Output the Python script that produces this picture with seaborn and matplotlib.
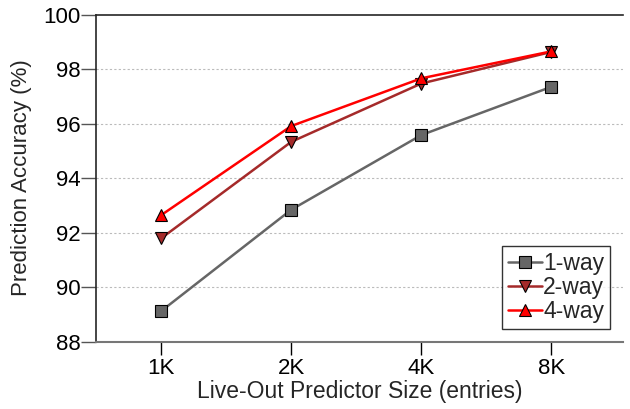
import pandas as pd
import numpy as np
import seaborn as sns
import matplotlib.pyplot as plt

sizes = ['1K', '2K', '4K', '8K']
way1 = [89.12, 92.84, 95.58, 97.35]
way2 = [91.79, 95.33, 97.47, 98.63]
way4 = [92.64, 95.91, 97.66, 98.65]
series = ['1-way', '2-way', '4-way']

sns.set_style('white')
plt.rcParams['font.family'] = ['Liberation Sans', 'DejaVu Sans']

rows = []
for name, vals in zip(series, [way1, way2, way4]):
    for i, v in enumerate(vals):
        rows.append([name, i, v])
df = pd.DataFrame(rows, columns=['assoc', 'pos', 'acc'])

fig = plt.figure(figsize=(6.3, 4.09), dpi=100)
ax = fig.add_axes([0.1524, 0.1645, 0.989 - 0.1524, 0.9645 - 0.1645])

palette = {'1-way': '#666666', '2-way': '#a52a2a', '4-way': '#ff0000'}
markers = {'1-way': 's', '2-way': 'v', '4-way': '^'}
sns.lineplot(data=df, x='pos', y='acc', hue='assoc', style='assoc',
             palette=palette, markers=markers, dashes=False, ax=ax,
             linewidth=1.8, markersize=9, markeredgecolor='black',
             markeredgewidth=0.8)

ax.set_xlim(-0.5, 3.55)
ax.set_ylim(88, 100)
ax.set_xticks(range(len(sizes)))
ax.set_xticklabels(sizes)
ax.set_yticks([88, 90, 92, 94, 96, 98, 100])
for y in [90, 92, 94, 96, 98]:
    ax.axhline(y, color='#bbbbbb', linestyle=(0, (2, 2)), linewidth=0.8, zorder=0)

ax.spines['right'].set_visible(False)
ax.spines['bottom'].set_color('#777777')
ax.spines['bottom'].set_linewidth(1.5)
ax.spines['top'].set_linewidth(1.2)
ax.spines['left'].set_linewidth(1.2)
ax.tick_params(axis='both', direction='out', width=1, labelsize=16,
               left=True, bottom=True, colors='black')
ax.tick_params(axis='y', length=10.5, color='#555555', pad=0.5)
ax.tick_params(axis='x', length=9.5, color='black', pad=2)

ax.set_xlabel('Live-Out Predictor Size (entries)', fontsize=16.5, labelpad=1)
ax.set_ylabel('Prediction Accuracy (%)', fontsize=16, labelpad=8)

leg = ax.legend(title=None, loc='lower right', bbox_to_anchor=(0.975, 0.04),
                fontsize=16.5, frameon=True, fancybox=False, handlelength=1.5,
                handletextpad=0.05, borderpad=0.25, labelspacing=0.05,
                borderaxespad=0)
leg.get_frame().set_edgecolor('black')
leg.get_frame().set_linewidth(1)

fig.savefig('out.png', dpi=100)
